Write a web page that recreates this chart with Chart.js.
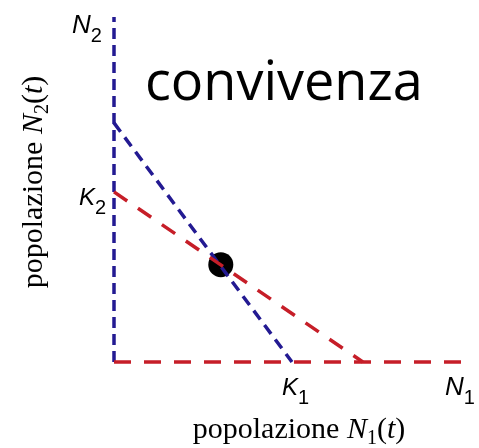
<!DOCTYPE html>
<html>
<head>
<meta charset="utf-8">
<script src="https://cdn.jsdelivr.net/npm/chart.js@4/dist/chart.umd.min.js"></script>
<style>
  html, body { margin: 0; padding: 0; background: #ffffff; }
  canvas { display: block; }
</style>
</head>
<body>
<canvas id="phase" width="479" height="448"></canvas>
<script>
// Phase plane of two competing populations (Lotka–Volterra), coexistence case
const axisMaxN1 = 100;                 // extent of the N1 axis
const axisMaxN2 = 100;                 // extent of the N2 axis
const K1 = 51;                         // carrying capacity of species 1
const K2 = 49.3;                       // carrying capacity of species 2
const isoclineN1X = [0, K1];           // dN1/dt = 0
const isoclineN1Y = [69.3, 0];
const isoclineN2X = [0, 71.3];         // dN2/dt = 0
const isoclineN2Y = [K2, 0];
const equilibriumX = [30.6];
const equilibriumY = [28.2];
const regimeLabel = 'convivenza';

const BLUE = '#231a92';
const RED = '#c61e28';

const toPoints = (xs, ys) => xs.map((v, i) => ({ x: v, y: ys[i] }));

function lineSet(points, color, dash) {
  return {
    type: 'scatter',
    data: points,
    showLine: true,
    borderColor: color,
    borderWidth: 3.5,
    borderDash: dash,
    borderCapStyle: 'butt',
    pointRadius: 0,
    pointHoverRadius: 0,
    clip: false,
    fill: false
  };
}

// Draws a run of text pieces with individual fonts and vertical shifts
function drawRich(ctx, parts, x, y, align) {
  let total = 0;
  parts.forEach(p => { ctx.font = p.font; p.w = ctx.measureText(p.t).width; total += p.w; });
  let cx = align === 'center' ? x - total / 2 : x;
  ctx.textAlign = 'left';
  ctx.textBaseline = 'alphabetic';
  parts.forEach(p => {
    ctx.font = p.font;
    ctx.fillText(p.t, cx, y + (p.dy || 0));
    cx += p.w;
  });
}

const SERIF = '"Liberation Serif", "Times New Roman", serif';
const SANS = '"Liberation Sans", Arial, sans-serif';

function axisTitle(sub) {
  return [
    { t: 'popolazione ', font: '30px ' + SERIF },
    { t: 'N', font: 'italic 30px ' + SERIF },
    { t: sub, font: '20px ' + SERIF, dy: 6 },
    { t: '(', font: '30px ' + SERIF },
    { t: 't', font: 'italic 30px ' + SERIF },
    { t: ')', font: '30px ' + SERIF }
  ];
}

function symbol(letter, sub, size) {
  return [
    { t: letter, font: 'italic ' + size + 'px ' + SANS },
    { t: sub, font: '20px ' + SANS, dy: 9 }
  ];
}

const annotations = {
  id: 'annotations',
  afterDatasetsDraw(chart) {
    const { ctx, scales: { x, y } } = chart;
    const x0 = x.getPixelForValue(0);
    const y0 = y.getPixelForValue(0);
    ctx.save();
    ctx.fillStyle = '#000000';

    // regime name
    ctx.font = '54px "Open Sans", "DejaVu Sans", sans-serif';
    ctx.textAlign = 'left';
    ctx.textBaseline = 'alphabetic';
    ctx.fillText(regimeLabel, x0 + 31, y.getPixelForValue(axisMaxN2) + 83);

    // axis end symbols and carrying capacities
    drawRich(ctx, symbol('N', '2', 26), x0 - 42, y.getPixelForValue(axisMaxN2) + 16);
    drawRich(ctx, symbol('N', '1', 26), x.getPixelForValue(axisMaxN1) - 18, y0 + 33);
    drawRich(ctx, symbol('K', '2', 24), x0 - 35, y.getPixelForValue(K2) + 13);
    drawRich(ctx, symbol('K', '1', 24), x.getPixelForValue(K1) - 10, y0 + 33);

    // axis titles
    drawRich(ctx, axisTitle('1'), 299, 438, 'center');
    ctx.translate(42, 182);
    ctx.rotate(-Math.PI / 2);
    drawRich(ctx, axisTitle('2'), 0, 0, 'center');
    ctx.restore();
  }
};

new Chart(document.getElementById('phase'), {
  type: 'scatter',
  data: {
    datasets: [
      lineSet(toPoints([0, axisMaxN1], [0, 0]), RED, [17, 13]),
      lineSet(toPoints(isoclineN2X, isoclineN2Y), RED, [16, 13]),
      lineSet(toPoints([0, 0], [0, axisMaxN2]), BLUE, [11, 6]),
      lineSet(toPoints(isoclineN1X, isoclineN1Y), BLUE, [11, 7]),
      {
        type: 'scatter',
        data: toPoints(equilibriumX, equilibriumY),
        pointRadius: 12.5,
        pointHoverRadius: 12.5,
        backgroundColor: '#000000',
        borderColor: '#000000',
        borderWidth: 0,
        clip: false
      }
    ]
  },
  options: {
    responsive: false,
    animation: false,
    events: [],
    layout: { padding: { left: 114, right: 16, top: 17, bottom: 86 } },
    plugins: { legend: { display: false }, tooltip: { enabled: false }, title: { display: false } },
    scales: {
      x: { type: 'linear', display: false, min: 0, max: axisMaxN1 },
      y: { type: 'linear', display: false, min: 0, max: axisMaxN2 }
    }
  },
  plugins: [annotations]
});
</script>
</body>
</html>
